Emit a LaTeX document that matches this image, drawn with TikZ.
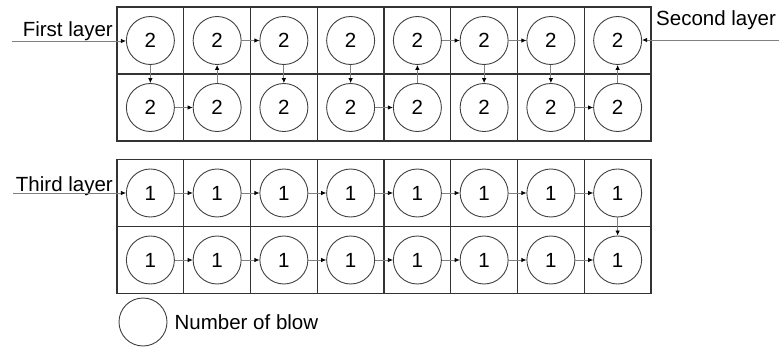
\documentclass[tikz,border=0pt]{standalone}
\usepackage{fontspec}
\setmainfont{Liberation Sans}
\usetikzlibrary{arrows.meta,positioning}

\begin{document}
\begin{tikzpicture}[
    x=1pt, y=-1pt,
    every node/.style={font=\fontsize{20.5}{24}\selectfont},
    blow/.style={draw=black!75, circle, minimum size=48pt, inner sep=0pt, line width=0.9pt},
    cell/.style={draw=black!80, line width=1.1pt},
    layer/.style={inner sep=0pt},
    flow/.style={-{Latex[length=5pt,width=4.5pt,color=black]}, draw=black!50, line width=0.8pt}
]
\useasboundingbox (0,0) rectangle (783,347);
% the two blocks of cells
\foreach \top in {7, 159.5} {
  \draw[cell] (117,\top) rectangle (651,\top+134);
  \draw[cell] (117,\top+67) -- (651,\top+67);
  \foreach \i in {1,...,7}
    \draw[cell] ({117+66.75*\i},\top) -- ++(0,134);
}
% circles, rows 1-2 = upper block, rows 3-4 = lower block
\foreach \i in {1,...,8} {
  \foreach \r/\y/\n in {1/40.5/2, 2/107.5/2, 3/193/1, 4/260/1}
    \node[blow] (c\r-\i) at ({117+66.75*(\i-0.5)},\y) {\n};
}
% layer labels
\node[layer, anchor=base east] (first) at (113,37) {First layer};
\node[layer, anchor=base west] (second) at (656,25.5) {Second layer};
\node[layer, anchor=base east] (third) at (113,191.5) {Third layer};
\coordinate (firstin) at (12,41);
\coordinate (secondin) at (779,40);
\coordinate (thirdin) at (13,193);
\draw[flow] (firstin) -- (c1-1.west |- firstin);
\draw[flow] (secondin) -- (c1-8.east |- secondin);
\draw[flow] (thirdin) -- (c3-1.west |- thirdin);
% upper block
\draw[flow] (c1-1) -- (c2-1);
\draw[flow] (c2-1) -- (c2-2);
\draw[flow] (c2-2) -- (c1-2);
\draw[flow] (c1-2) -- (c1-3);
\draw[flow] (c1-3) -- (c2-3);
\draw[flow] (c1-4) -- (c2-4);
\draw[flow] (c2-4) -- (c2-5);
\draw[flow] (c2-5) -- (c1-5);
\draw[flow] (c1-5) -- (c1-6);
\draw[flow] (c1-6) -- (c1-7);
\draw[flow] (c1-6) -- (c2-6);
\draw[flow] (c1-7) -- (c2-7);
\draw[flow] (c2-7) -- (c2-8);
\draw[flow] (c2-8) -- (c1-8);
% lower block
\foreach \i [evaluate=\i as \j using int(\i+1)] in {1,...,7} {
  \draw[flow] (c3-\i) -- (c3-\j);
  \draw[flow] (c4-\i) -- (c4-\j);
}
\draw[flow] (c3-8) -- (c4-8);
% legend
\node[blow] (legend) at (143,322) {};
\node[layer, right=7pt of legend] (legendtext) {Number of blow};
\end{tikzpicture}
\end{document}
